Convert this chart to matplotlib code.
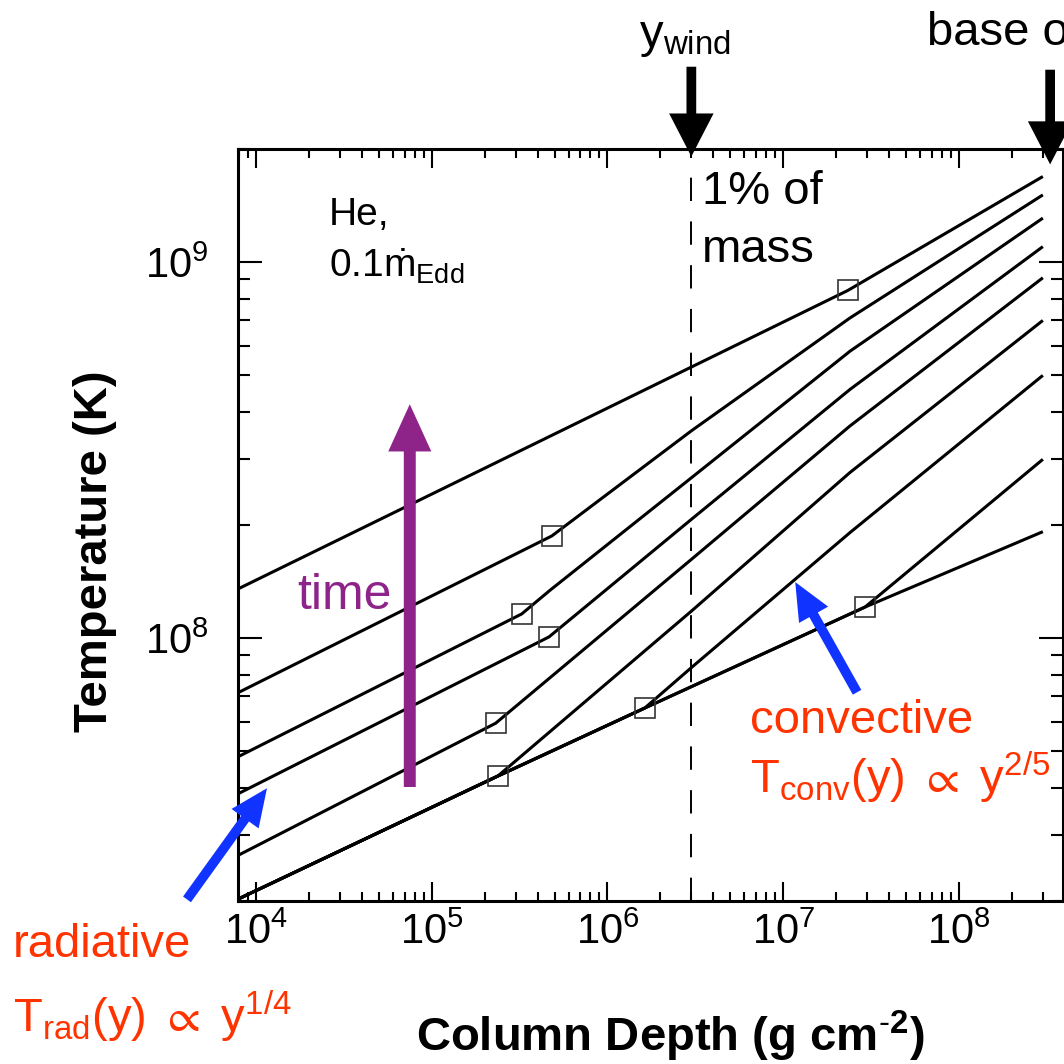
import matplotlib
matplotlib.use("Agg")
import matplotlib.pyplot as plt

plt.rcParams['font.family'] = ['Liberation Sans', 'DejaVu Sans']
plt.rcParams['mathtext.fontset'] = 'custom'
plt.rcParams['mathtext.rm'] = 'Liberation Sans'
plt.rcParams['mathtext.it'] = 'Liberation Sans:italic'
plt.rcParams['mathtext.bf'] = 'Liberation Sans:bold'
plt.rcParams['mathtext.sf'] = 'Liberation Sans'
plt.rcParams['mathtext.fallback'] = 'stixsans'

# temperature profiles, column depth (g cm^-2) vs T (K), hottest first
curve1_y = [7.85e3, 2.33e7, 3.0e8]
curve1_T = [1.35e8, 8.41e8, 1.69e9]
curve2_y = [7.85e3, 4.82e5, 3.0e6, 2.4e7, 3.0e8]
curve2_T = [7.15e7, 1.87e8, 3.56e8, 7.11e8, 1.51e9]
curve3_y = [7.85e3, 3.25e5, 4.7e5, 3.0e6, 2.4e7, 3.0e8]
curve3_T = [4.83e7, 1.16e8, 1.34e8, 2.67e8, 5.80e8, 1.31e9]
curve4_y = [7.85e3, 4.65e5, 3.0e6, 2.4e7, 3.0e8]
curve4_T = [3.85e7, 1.008e8, 2.07e8, 4.59e8, 1.10e9]
curve5_y = [7.85e3, 2.31e5, 3.0e6, 2.4e7, 3.0e8]
curve5_T = [2.64e7, 5.94e7, 1.62e8, 3.67e8, 9.09e8]
curve6_y = [7.85e3, 2.38e5, 3.0e6, 2.4e7, 3.0e8]
curve6_T = [2.02e7, 4.30e7, 1.18e8, 2.76e8, 7.0e8]
curve7_y = [7.85e3, 2.38e5, 1.63e6, 3.0e6, 2.4e7, 3.0e8]
curve7_T = [2.02e7, 4.30e7, 6.52e7, 8.35e7, 1.91e8, 5.0e8]
curve8_y = [7.85e3, 2.38e5, 1.63e6, 2.92e7, 3.0e8]
curve8_T = [2.02e7, 4.30e7, 6.52e7, 1.21e8, 2.99e8]
curve9_y = [7.85e3, 2.38e5, 1.63e6, 2.92e7, 3.0e8]
curve9_T = [2.02e7, 4.30e7, 6.52e7, 1.21e8, 1.92e8]

# radiative -> convective transition points
trans_y = [2.33e7, 4.82e5, 3.25e5, 4.65e5, 2.31e5, 2.38e5, 1.63e6, 2.92e7]
trans_T = [8.41e8, 1.87e8, 1.16e8, 1.008e8, 5.94e7, 4.30e7, 6.52e7, 1.21e8]

y_wind = 3.0e6
y_base = 3.3e8

red = '#ff3300'
blue = '#1133ff'
purple = '#8e2389'

W = 1064.0


def px(x, y):
    return x / W, 1 - y / W


fig = plt.figure(figsize=(10.64, 10.64), dpi=100)
ax = fig.add_axes([237.5 / W, 1 - 901 / W, 825 / W, 752 / W])

curves = [(curve1_y, curve1_T), (curve2_y, curve2_T), (curve3_y, curve3_T),
          (curve4_y, curve4_T), (curve5_y, curve5_T), (curve6_y, curve6_T),
          (curve7_y, curve7_T), (curve8_y, curve8_T), (curve9_y, curve9_T)]
for cy, cT in curves:
    ax.plot(cy, cT, color='black', lw=2.2, solid_capstyle='butt', zorder=2)

ax.plot(trans_y, trans_T, ls='none', marker='s', ms=14, mfc='none',
        mec='#333333', mew=1.2, zorder=3)

ax.axvline(y_wind, color='black', lw=1.4, dashes=(12, 10.5), zorder=1)

ax.set_xscale('log')
ax.set_yscale('log')
ax.set_xlim(7.85e3, 3.88e8)
ax.set_ylim(2.0e7, 2.0e9)

for s in ax.spines.values():
    s.set_linewidth(2.2)
ax.tick_params(which='both', direction='in', top=True, right=True, width=1.5)
ax.tick_params(axis='x', which='major', length=14, pad=8, labelsize=30)
ax.tick_params(axis='x', which='minor', length=6.5)
ax.tick_params(axis='y', which='major', length=17, pad=21, labelsize=30)
ax.tick_params(axis='y', which='minor', length=8.5)
ax.yaxis.set_minor_formatter(plt.NullFormatter())
ax.xaxis.set_minor_formatter(plt.NullFormatter())

ax.set_xlabel(r'Column Depth (g cm$^{\mathbf{\text{-}2}}$)', fontsize=34, fontweight='bold')
ax.set_ylabel('Temperature (K)', fontsize=34, fontweight='bold')
ax.xaxis.set_label_coords(0.524, -0.143)
ax.yaxis.set_label_coords(-0.146, 0.465)

# arrows
ax.annotate('', xy=(7.5e4, 4.19e8), xytext=(7.5e4, 4.02e7),
            arrowprops=dict(arrowstyle='simple,head_length=34,head_width=31,tail_width=8.6',
                            mutation_scale=1, color=purple, lw=0, shrinkA=0, shrinkB=0),
            zorder=4)
ax.annotate('', xy=(1.155e4, 3.99e7), xytext=(4.05e3, 2.02e7), annotation_clip=False,
            arrowprops=dict(arrowstyle='simple,head_length=27,head_width=24,tail_width=7',
                            mutation_scale=1, color=blue, lw=0, shrinkA=0, shrinkB=0),
            zorder=4)
ax.annotate('', xy=(1.17e7, 1.41e8), xytext=(2.63e7, 7.18e7),
            arrowprops=dict(arrowstyle='simple,head_length=27,head_width=24,tail_width=7',
                            mutation_scale=1, color=blue, lw=0, shrinkA=0, shrinkB=0),
            zorder=4)
ax.annotate('', xy=(y_wind, 1.91e9), xytext=(y_wind, 3.31e9), annotation_clip=False,
            arrowprops=dict(arrowstyle='simple,head_length=31,head_width=32,tail_width=7',
                            mutation_scale=1, color='black', lw=0, shrinkA=0, shrinkB=0),
            zorder=5)
ax.annotate('', xy=(y_base, 1.82e9), xytext=(y_base, 3.25e9), annotation_clip=False,
            arrowprops=dict(arrowstyle='simple,head_length=31,head_width=32,tail_width=7',
                            mutation_scale=1, color='black', lw=0, shrinkA=0, shrinkB=0),
            zorder=5)

# annotations
fig.text(*px(639, 47), r'y$_{\mathrm{wind}}$', fontsize=34, va='baseline')
fig.text(*px(927, 45), 'base of', fontsize=34, va='baseline')
fig.text(*px(702, 204), '1% of', fontsize=34, va='baseline')
fig.text(*px(702, 262), 'mass', fontsize=34, va='baseline')
fig.text(*px(329, 225), 'He,', fontsize=28, va='baseline')
fig.text(*px(329, 278), r'0.1$\dot{\mathrm{m}}_{\mathrm{Edd}}$', fontsize=28, va='baseline')
fig.text(*px(297, 609), 'time', fontsize=36, color=purple, va='baseline')
fig.text(*px(13, 957), 'radiative', fontsize=34, color=red, va='baseline')
fig.text(*px(13, 1032), r'T$_{\mathrm{rad}}$(y) $\propto$ y$^{1/4}$', fontsize=34,
         color=red, va='baseline')
fig.text(*px(750, 733), 'convective', fontsize=34, color=red, va='baseline')
fig.text(*px(750, 793), r'T$_{\mathrm{conv}}$(y) $\propto$ y$^{2/5}$', fontsize=34,
         color=red, va='baseline')

fig.savefig('out.png', dpi=100)
